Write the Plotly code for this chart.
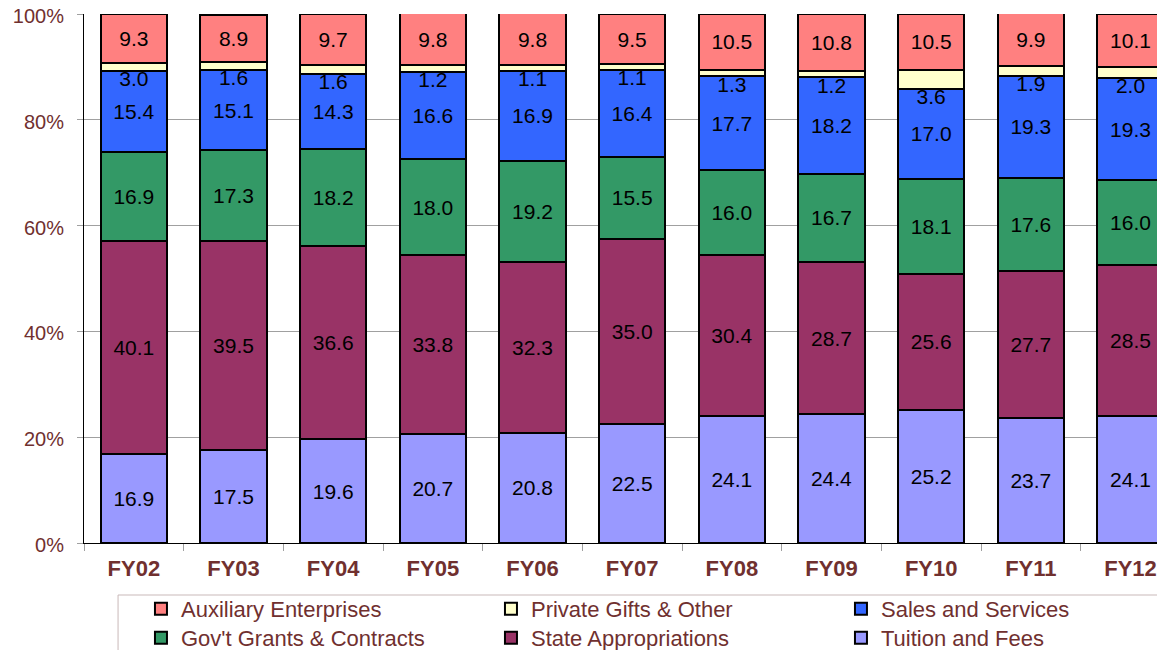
import numpy as np
import plotly.graph_objects as go

categories = ["FY02", "FY03", "FY04", "FY05", "FY06", "FY07", "FY08", "FY09", "FY10", "FY11", "FY12"]
tuition = [16.9, 17.5, 19.6, 20.7, 20.8, 22.5, 24.1, 24.4, 25.2, 23.7, 24.1]
state = [40.1, 39.5, 36.6, 33.8, 32.3, 35.0, 30.4, 28.7, 25.6, 27.7, 28.5]
grants = [16.9, 17.3, 18.2, 18.0, 19.2, 15.5, 16.0, 16.7, 18.1, 17.6, 16.0]
sales = [15.4, 15.1, 14.3, 16.6, 16.9, 16.4, 17.7, 18.2, 17.0, 19.3, 19.3]
private = [1.4, 1.6, 1.6, 1.2, 1.1, 1.1, 1.3, 1.2, 3.6, 1.9, 2.0]
private_labels = ["3.0", "1.6", "1.6", "1.2", "1.1", "1.1", "1.3", "1.2", "3.6", "1.9", "2.0"]
auxiliary = [9.3, 8.9, 9.7, 9.8, 9.8, 9.5, 10.5, 10.8, 10.5, 9.9, 10.1]

FONT = "Arial, Liberation Sans, sans-serif"
DARKRED = "#70302F"

series = [
    ("Tuition and Fees", tuition, "#9999FF", 6, "legend2"),
    ("State Appropriations", state, "#993366", 5, "legend2"),
    ("Gov't Grants & Contracts", grants, "#339966", 4, "legend2"),
    ("Sales and Services", sales, "#3366FF", 3, "legend"),
    ("Private Gifts & Other", private, "#FFFFCC", 2, "legend"),
    ("Auxiliary Enterprises", auxiliary, "#FF8080", 1, "legend"),
]

fig = go.Figure()
for name, vals, color, rank, leg in series:
    show_text = name != "Private Gifts & Other"
    fig.add_trace(go.Bar(
        x=categories, y=vals, name=name,
        marker=dict(color=color, line=dict(color="black", width=2)),
        text=[f"{v:.1f}" for v in vals] if show_text else None,
        textposition="inside" if show_text else "none",
        insidetextanchor="middle",
        textangle=0,
        textfont=dict(family=FONT, size=21, color="black"),
        legendrank=rank,
        legend=leg,
        hoverinfo="skip",
    ))

blue_top = np.array(tuition) + np.array(state) + np.array(grants) + np.array(sales)
fig.add_trace(go.Scatter(
    x=categories, y=blue_top - 1.9, mode="text", text=private_labels,
    textfont=dict(family=FONT, size=21, color="black"),
    showlegend=False, hoverinfo="skip",
))

legend_common = dict(
    orientation="h", x=0.0527, xanchor="left", yanchor="top",
    entrywidth=305, bgcolor="rgba(0,0,0,0)", borderwidth=0,
    font=dict(family=FONT, size=22, color=DARKRED),
    traceorder="normal",
)

fig.update_layout(
    width=1165, height=650,
    barmode="stack", bargap=0.337,
    margin=dict(l=76, r=8, t=6, b=115, autoexpand=False),
    plot_bgcolor="white", paper_bgcolor="white",
    font=dict(family=FONT, color=DARKRED),
    showlegend=True,
    legend=dict(y=-0.0851, **legend_common),
    legend2=dict(y=-0.1399, **legend_common),
    shapes=[dict(
        type="rect", xref="paper", yref="paper",
        x0=0.0315, x1=1.05, y0=-0.0983, y1=-0.3,
        line=dict(color="#C9B9B9", width=1), fillcolor="rgba(0,0,0,0)", layer="below",
    )],
)
fig.update_xaxes(
    range=[-0.5, 10.346], showline=True, linecolor="black", linewidth=1,
    ticks="outside", tickson="boundaries", ticklen=7, tickcolor="#A0A0A0",
    tickfont=dict(family=FONT, size=22, color=DARKRED, weight="bold"),
    ticklabelstandoff=6, showgrid=False,
)
fig.update_yaxes(
    range=[0, 100], dtick=20, ticksuffix="%", showline=True, linecolor="black",
    linewidth=1, ticks="outside", ticklen=6, tickcolor="#A0A0A0",
    showgrid=True, gridcolor="#A0A0A0", gridwidth=1, zeroline=False,
    tickfont=dict(family=FONT, size=20, color=DARKRED), ticklabelstandoff=9,
    ticklabeloverflow="allow", ticklabelshift=2,
)

fig.write_html("out.html")
